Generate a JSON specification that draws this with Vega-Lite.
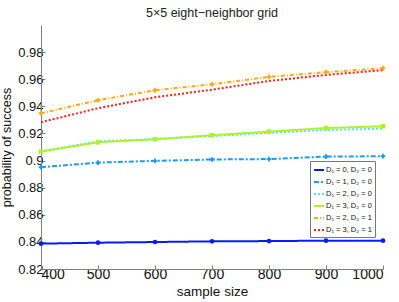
{
  "$schema": "https://vega.github.io/schema/vega-lite/v6.json",
  "width": 342,
  "height": 244,
  "autosize": {"type": "none"},
  "padding": {"left": 41, "top": 25, "right": 16, "bottom": 33},
  "background": "white",
  "config": {
    "font": "Liberation Sans",
    "view": {"stroke": null},
    "axis": {"grid": false, "domainColor": "#808080", "tickColor": "#808080", "labelColor": "#111", "titleColor": "#111", "labelFont": "Liberation Sans", "titleFont": "Liberation Sans", "titleFontWeight": "normal", "labelFontSize": 13, "titleFontSize": 12.5}
  },
  "title": {"text": "5×5 eight−neighbor grid", "fontSize": 12.5, "fontWeight": "normal", "color": "#222", "font": "Liberation Sans", "offset": 6},
  "data": {"values": [
    {"series": "D₁ = 0, D₂ = 0", "n": 400, "p": 0.8387},
    {"series": "D₁ = 0, D₂ = 0", "n": 500, "p": 0.8394},
    {"series": "D₁ = 0, D₂ = 0", "n": 600, "p": 0.8399},
    {"series": "D₁ = 0, D₂ = 0", "n": 700, "p": 0.8404},
    {"series": "D₁ = 0, D₂ = 0", "n": 800, "p": 0.8406},
    {"series": "D₁ = 0, D₂ = 0", "n": 900, "p": 0.8409},
    {"series": "D₁ = 0, D₂ = 0", "n": 1000, "p": 0.8409},
    {"series": "D₁ = 1, D₂ = 0", "n": 400, "p": 0.8951},
    {"series": "D₁ = 1, D₂ = 0", "n": 500, "p": 0.8985},
    {"series": "D₁ = 1, D₂ = 0", "n": 600, "p": 0.8998},
    {"series": "D₁ = 1, D₂ = 0", "n": 700, "p": 0.9008},
    {"series": "D₁ = 1, D₂ = 0", "n": 800, "p": 0.9011},
    {"series": "D₁ = 1, D₂ = 0", "n": 900, "p": 0.9029},
    {"series": "D₁ = 1, D₂ = 0", "n": 1000, "p": 0.9032},
    {"series": "D₁ = 2, D₂ = 0", "n": 400, "p": 0.9069},
    {"series": "D₁ = 2, D₂ = 0", "n": 500, "p": 0.9141},
    {"series": "D₁ = 2, D₂ = 0", "n": 600, "p": 0.9159},
    {"series": "D₁ = 2, D₂ = 0", "n": 700, "p": 0.9181},
    {"series": "D₁ = 2, D₂ = 0", "n": 800, "p": 0.9205},
    {"series": "D₁ = 2, D₂ = 0", "n": 900, "p": 0.9226},
    {"series": "D₁ = 2, D₂ = 0", "n": 1000, "p": 0.9235},
    {"series": "D₁ = 3, D₂ = 0", "n": 400, "p": 0.9066},
    {"series": "D₁ = 3, D₂ = 0", "n": 500, "p": 0.9135},
    {"series": "D₁ = 3, D₂ = 0", "n": 600, "p": 0.9157},
    {"series": "D₁ = 3, D₂ = 0", "n": 700, "p": 0.9187},
    {"series": "D₁ = 3, D₂ = 0", "n": 800, "p": 0.9213},
    {"series": "D₁ = 3, D₂ = 0", "n": 900, "p": 0.9240},
    {"series": "D₁ = 3, D₂ = 0", "n": 1000, "p": 0.9253},
    {"series": "D₁ = 2, D₂ = 1", "n": 400, "p": 0.9349},
    {"series": "D₁ = 2, D₂ = 1", "n": 500, "p": 0.9445},
    {"series": "D₁ = 2, D₂ = 1", "n": 600, "p": 0.9519},
    {"series": "D₁ = 2, D₂ = 1", "n": 700, "p": 0.9563},
    {"series": "D₁ = 2, D₂ = 1", "n": 800, "p": 0.9617},
    {"series": "D₁ = 2, D₂ = 1", "n": 900, "p": 0.9652},
    {"series": "D₁ = 2, D₂ = 1", "n": 1000, "p": 0.9681},
    {"series": "D₁ = 3, D₂ = 1", "n": 400, "p": 0.9283},
    {"series": "D₁ = 3, D₂ = 1", "n": 500, "p": 0.9386},
    {"series": "D₁ = 3, D₂ = 1", "n": 600, "p": 0.9467},
    {"series": "D₁ = 3, D₂ = 1", "n": 700, "p": 0.9523},
    {"series": "D₁ = 3, D₂ = 1", "n": 800, "p": 0.9587},
    {"series": "D₁ = 3, D₂ = 1", "n": 900, "p": 0.9632},
    {"series": "D₁ = 3, D₂ = 1", "n": 1000, "p": 0.9667}
  ]},
  "encoding": {
    "x": {"field": "n", "type": "quantitative", "scale": {"domain": [400, 1000], "nice": false},
      "axis": {"title": "sample size", "values": [400, 500, 600, 700, 800, 900, 1000], "tickSize": -4, "labelPadding": 2, "labelFontSize": 14, "titleFontSize": 13.5, "titleY": 15, "titleBaseline": "top", "format": "d"}},
    "y": {"field": "p", "type": "quantitative", "scale": {"domain": [0.82, 1.0], "nice": false, "zero": false},
      "axis": {"title": "probability of success", "values": [0.82, 0.84, 0.86, 0.88, 0.9, 0.92, 0.94, 0.96, 0.98], "format": "~g", "tickSize": -4, "labelPadding": 2, "titleX": -28, "titleBaseline": "bottom"}}
  },
  "layer": [
    {
      "mark": {"type": "line", "strokeWidth": 2},
      "encoding": {
        "color": {"field": "series", "type": "nominal",
          "scale": {"domain": ["D₁ = 0, D₂ = 0", "D₁ = 1, D₂ = 0", "D₁ = 2, D₂ = 0", "D₁ = 3, D₂ = 0", "D₁ = 2, D₂ = 1", "D₁ = 3, D₂ = 1"],
                    "range": ["#0a1aff", "#1a9cff", "#40f0e0", "#b0f030", "#ffaa10", "#ff2010"]},
          "legend": {"title": null, "orient": "none", "legendX": 269, "legendY": 136, "symbolType": "stroke", "symbolSize": 100, "symbolStrokeWidth": 2.5, "labelFontSize": 7.5, "labelFont": "Liberation Sans", "labelColor": "#111", "rowPadding": 2, "labelOffset": 1, "strokeColor": "#777", "padding": 3, "fillColor": "white"}},
        "strokeDash": {"field": "series", "type": "nominal",
          "scale": {"domain": ["D₁ = 0, D₂ = 0", "D₁ = 1, D₂ = 0", "D₁ = 2, D₂ = 0", "D₁ = 3, D₂ = 0", "D₁ = 2, D₂ = 1", "D₁ = 3, D₂ = 1"],
                    "range": [[1, 0], [5, 2, 2, 2], [2, 2], [1, 0], [4, 2, 1, 2], [2, 2]]}},
        "strokeWidth": {"field": "series", "type": "nominal", "legend": null,
          "scale": {"domain": ["D₁ = 0, D₂ = 0", "D₁ = 1, D₂ = 0", "D₁ = 2, D₂ = 0", "D₁ = 3, D₂ = 0", "D₁ = 2, D₂ = 1", "D₁ = 3, D₂ = 1"],
                    "range": [2, 2, 2, 3, 2, 2]}}
      }
    },
    {
      "transform": [{"filter": {"field": "series", "oneOf": ["D₁ = 0, D₂ = 0", "D₁ = 1, D₂ = 0", "D₁ = 3, D₂ = 0", "D₁ = 2, D₂ = 1"]}}],
      "mark": {"type": "point", "filled": true, "size": 22, "opacity": 1},
      "encoding": {
        "color": {"field": "series", "type": "nominal", "legend": null},
        "shape": {"field": "series", "type": "nominal", "legend": null,
          "scale": {"domain": ["D₁ = 0, D₂ = 0", "D₁ = 1, D₂ = 0", "D₁ = 3, D₂ = 0", "D₁ = 2, D₂ = 1"],
                    "range": ["circle", "cross", "square", "cross"]}}
      }
    }
  ]
}
